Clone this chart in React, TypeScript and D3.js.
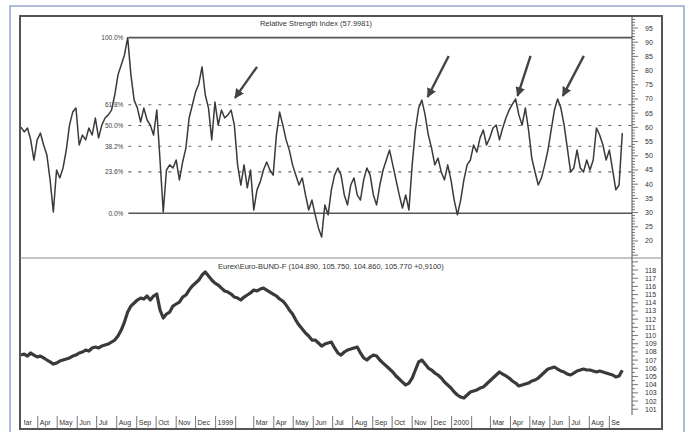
import React from "react";
import * as d3 from "d3";

// ---- data (sampled every 5 calendar days from 1998-03-06) ----
const startDate = "1998-03-06";
const stepDays = 5;

const rsiValues = [
  60.1, 58.4, 59.8, 55.6, 48.5, 55.6, 58.0, 53.8, 50.3, 41.5,
  30.2, 45.0, 42.2, 45.7, 52.0, 60.8, 65.4, 66.8, 53.8, 57.3,
  55.6, 59.8, 57.3, 63.3, 56.3, 60.8, 63.3, 64.4, 66.1, 71.4,
  78.5, 82.0, 85.5, 91.6, 78.5, 69.6, 66.8, 61.9, 66.8, 62.6,
  60.8, 57.3, 66.1, 48.5, 30.2, 45.0, 46.8, 45.7, 48.5, 41.5,
  47.8, 52.7, 63.3, 67.9, 72.5, 75.3, 81.3, 71.4, 66.8, 55.6,
  68.9, 60.8, 66.1, 63.3, 64.4, 66.1, 60.8, 46.8, 39.7, 46.8,
  38.7, 45.0, 30.9, 38.0, 40.8, 45.0, 47.8, 45.0, 43.2, 57.3,
  65.4, 60.8, 55.6, 52.0, 46.8, 43.2, 39.7, 42.2, 36.2, 30.9,
  34.4, 29.2, 24.6, 21.4, 32.7, 29.2, 38.0, 43.2, 45.7, 43.2,
  36.2, 32.7, 39.7, 42.2, 36.2, 34.4, 41.5, 45.7, 43.2, 36.2,
  32.7, 39.7, 45.0, 48.5, 52.0, 46.8, 41.5, 36.2, 31.6, 36.2,
  30.9, 46.8, 59.1, 66.8, 69.6, 64.4, 57.3, 52.7, 46.8, 49.2,
  44.3, 41.5, 46.8, 41.5, 34.4, 29.2, 34.4, 41.5, 46.8, 48.5,
  53.8, 51.3, 56.3, 59.1, 53.8, 56.3, 59.8, 60.8, 55.6, 59.8,
  63.3, 66.1, 68.2, 70.0, 64.4, 60.8, 66.8, 59.1, 49.2, 44.3,
  39.7, 42.2, 46.8, 52.0, 59.1, 66.1, 70.0, 66.8, 60.8, 52.7,
  44.3, 45.7, 52.0, 45.7, 44.3, 48.5, 45.0, 48.5, 59.8, 57.3,
  53.8, 48.5, 52.0, 45.0, 38.0, 39.7, 58.0,
];

const bundValues = [
  107.62, 107.74, 107.5, 107.87, 107.62, 107.38, 107.5, 107.26, 107.01, 106.77,
  106.52, 106.64, 106.89, 107.01, 107.13, 107.26, 107.5, 107.62, 107.87, 107.99,
  108.23, 108.11, 108.48, 108.6, 108.48, 108.72, 108.84, 108.96, 109.21, 109.45,
  109.94, 110.67, 111.65, 112.87, 113.6, 113.97, 114.34, 114.58, 114.46, 114.83,
  114.34, 114.83, 115.07, 113.12, 112.14, 112.63, 112.87, 113.6, 113.85, 114.09,
  114.7, 114.95, 115.56, 116.05, 116.41, 116.78, 117.39, 117.76, 117.27, 116.78,
  116.41, 116.17, 115.8, 115.44, 115.31, 115.07, 114.7, 114.58, 114.34, 114.7,
  114.95, 115.2, 115.56, 115.44, 115.68, 115.8, 115.56, 115.31, 115.07, 114.83,
  114.46, 114.21, 113.73, 113.12, 112.63, 111.89, 111.28, 110.8, 110.31, 109.94,
  109.45, 109.45, 109.09, 108.72, 108.96, 109.09, 109.21, 108.48, 107.87, 107.62,
  107.99, 108.23, 108.35, 108.48, 108.6, 107.87, 107.26, 107.01, 107.38, 107.62,
  107.5, 107.01, 106.64, 106.28, 105.91, 105.55, 105.06, 104.69, 104.32, 103.96,
  104.2, 104.81, 105.79, 106.77, 107.01, 106.52, 106.03, 105.79, 105.42, 105.18,
  104.81, 104.32, 103.96, 103.59, 103.1, 102.74, 102.49, 102.37, 102.74, 103.1,
  103.23, 103.35, 103.59, 103.71, 104.08, 104.45, 104.81, 105.18, 105.55, 105.3,
  105.06, 104.81, 104.45, 104.2, 103.84, 103.96, 104.08, 104.2, 104.45, 104.57,
  104.81, 105.18, 105.55, 105.91, 106.03, 106.16, 105.91, 105.67, 105.55, 105.3,
  105.18, 105.42, 105.67, 105.79, 105.91, 105.79, 105.79, 105.67, 105.55, 105.67,
  105.55, 105.42, 105.3, 105.18, 104.94, 105.06, 105.77,
];

const rsiTicks = [20, 25, 30, 35, 40, 45, 50, 55, 60, 65, 70, 75, 80, 85, 90, 95];
const bundTicks = [101, 102, 103, 104, 105, 106, 107, 108, 109, 110, 111, 112, 113, 114, 115, 116, 117, 118];

const fibLow = 29.75;
const fibHigh = 91.6;
const fibStartDate = "1998-08-19";
const fibRatios = [1, 0.618, 0.5, 0.382, 0.236, 0];
const fibLabels = ["100.0%", "61.8%", "50.0%", "38.2%", "23.6%", "0.0%"];

const arrowTipDates = ["1999-01-31", "1999-11-25", "2000-04-12", "2000-06-21"];
const arrowTipValues = [70.4, 70.7, 71.1, 71.1];
const arrowTailOffsets = [[22, -31], [21, -41], [13, -40], [21, -40]];

const rsiTitle = "Relative Strength Index (57.9981)";
const bundTitle = "Eurex\\Euro-BUND-F (104.890, 105.750, 104.860, 105.770 +0,9100)";

// ---- layout ----
const W = 689;
const H = 432;
const L = 21;
const R = 632;
const TOP = 16;
const SEP = 258;
const BOT = 413;
const FONT = "'Liberation Sans', Arial, sans-serif";
const INK = "#3a3a3a";

export default function App() {
  const parse = d3.timeParse("%Y-%m-%d");
  const start = parse(startDate) as Date;
  const dates = rsiValues.map((_, i) => d3.timeDay.offset(start, i * stepDays));

  const x = d3.scaleTime().domain([start, new Date(2000, 9, 6)]).range([L, R]);
  const yTop = d3.scaleLinear().domain([14.0, 99.23]).range([SEP, TOP]);
  const yBot = d3.scaleLinear().domain([100.54, 119.47]).range([BOT, SEP]);

  const rsiPath = d3
    .line<number>()
    .x((_, i) => x(dates[i]))
    .y((d) => yTop(d))(rsiValues) as string;
  const bundPath = d3
    .line<number>()
    .x((_, i) => x(dates[i]))
    .y((d) => yBot(d))(bundValues) as string;

  const months = d3.timeMonth.range(new Date(1998, 2, 1), new Date(2000, 9, 1));
  const monthLabel = (d: Date) =>
    d.getMonth() === 0 ? String(d.getFullYear()) : d.getMonth() === 1 ? "" : d3.timeFormat("%b")(d);

  const fibX0 = x(parse(fibStartDate) as Date);

  const topMinor = d3.range(15, 99.1, 1);
  const botMinor = d3.range(101, 119.3, 0.5);

  return (
    <svg width={W} height={H} style={{ position: "absolute", left: 0, top: 0, background: "#fff" }}>
      <defs>
        <clipPath id="axclip">
          <rect x={24} y={BOT} width={620 - 24} height={20} />
        </clipPath>
        <marker id="ah" viewBox="0 0 10 10" refX="9" refY="5" markerWidth="4" markerHeight="4" orient="auto">
          <path d="M0,0 L10,5 L0,10 Z" fill="#444" />
        </marker>
      </defs>
      {/* outer blue frame */}
      <rect x={10} y={6} width={674} height={440} fill="none" stroke="#97a6cf" strokeWidth={1.5} />
      {/* chart frame */}
      <rect x={20} y={16} width={642} height={413} fill="none" stroke="#555" strokeWidth={2} />
      <line x1={20} x2={662} y1={SEP} y2={SEP} stroke="#8a8a8a" strokeWidth={1} />
      <line x1={R} x2={R} y1={TOP} y2={BOT + 2} stroke="#555" strokeWidth={1} />

      {/* right axis ticks - top */}
      {topMinor.map((v) => (
        <line key={"tm" + v} x1={R} x2={R + (v % 5 === 0 ? 6 : 3)} y1={yTop(v)} y2={yTop(v)} stroke="#555" strokeWidth={0.8} />
      ))}
      {rsiTicks.map((v) => (
        <text key={"tl" + v} x={645} y={yTop(v) + 2.5} fontSize={7} fontFamily={FONT} fill="#333">
          {v}
        </text>
      ))}
      {/* right axis ticks - bottom */}
      {botMinor.map((v) => (
        <line key={"bm" + v} x1={R} x2={R + (v % 1 === 0 ? 6 : 3)} y1={yBot(v)} y2={yBot(v)} stroke="#555" strokeWidth={0.8} />
      ))}
      {bundTicks.map((v) => (
        <text key={"bl" + v} x={645} y={yBot(v) + 2.5} fontSize={7} fontFamily={FONT} fill="#333">
          {v}
        </text>
      ))}

      {/* titles */}
      <text x={316} y={26} fontSize={7.5} fontFamily={FONT} fill="#333" textAnchor="middle">
        {rsiTitle}
      </text>
      <text x={218} y={269} fontSize={7.5} fontFamily={FONT} fill="#333">
        {bundTitle}
      </text>

      {/* fibonacci levels */}
      {fibRatios.map((r, i) => {
        const v = fibLow + (fibHigh - fibLow) * r;
        const yy = yTop(v);
        const solid = r === 0 || r === 1;
        return (
          <g key={"fib" + i}>
            <line
              x1={fibX0}
              x2={R}
              y1={yy}
              y2={yy}
              stroke={solid ? "#555" : "#666"}
              strokeWidth={solid ? 1.6 : 1.1}
              strokeDasharray={solid ? undefined : "3,7"}
            />
            <text x={fibX0 - 5} y={yy + 2.5} fontSize={6.5} fontFamily={FONT} fill="#444" textAnchor="end">
              {fibLabels[i]}
            </text>
          </g>
        );
      })}

      {/* RSI */}
      <path d={rsiPath} fill="none" stroke={INK} strokeWidth={1.5} strokeLinejoin="round" />
      {/* Bund */}
      <path d={bundPath} fill="none" stroke={INK} strokeWidth={3.2} strokeLinejoin="round" />

      {/* arrows */}
      {arrowTipDates.map((ds, i) => {
        const tx = x(parse(ds) as Date);
        const ty = yTop(arrowTipValues[i]);
        const [dx, dy] = arrowTailOffsets[i];
        return (
          <line
            key={"ar" + i}
            x1={tx + dx}
            y1={ty + dy}
            x2={tx}
            y2={ty}
            stroke="#444"
            strokeWidth={2.4}
            markerEnd="url(#ah)"
          />
        );
      })}

      {/* month axis */}
      <g clipPath="url(#axclip)">
        {months.map((m, i) => {
          const mx = x(m);
          return (
            <g key={"m" + i}>
              <line x1={mx} x2={mx} y1={416} y2={428} stroke="#555" strokeWidth={0.8} />
              <text x={mx + 2} y={425} fontSize={7} fontFamily={FONT} fill="#333">
                {monthLabel(m)}
              </text>
            </g>
          );
        })}
      </g>
    </svg>
  );
}
